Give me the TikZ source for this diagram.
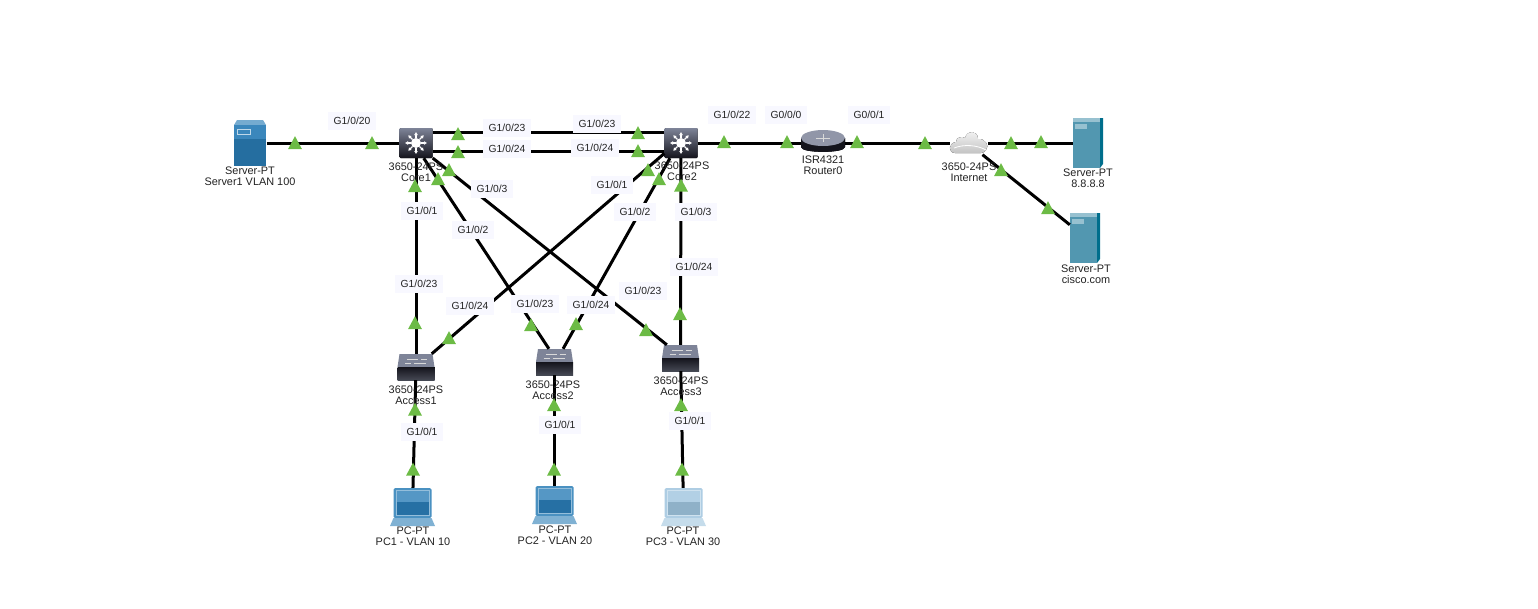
\documentclass[tikz,border=0pt]{standalone}
\usepackage{fontspec}
\setmainfont{Liberation Sans}
\usetikzlibrary{positioning,arrows.meta,shapes.geometric}
\definecolor{pktgreen}{HTML}{6CBB45}
\definecolor{pktlabel}{HTML}{F8F8FF}
\definecolor{pkttext}{HTML}{222222}
\definecolor{pktsteel}{HTML}{7E8498}
\definecolor{pktdark}{HTML}{14141C}
\definecolor{pktblue}{HTML}{2A7DB6}
\definecolor{pktteal}{HTML}{5297B0}
\definecolor{pktside}{HTML}{006E8C}

\tikzset{
  mlsicon/.pic={
    \fill[top color=pktsteel, middle color=pktdark!75!pktsteel, bottom color=pktdark, rounded corners=1pt] (-16.5,-15) rectangle (16.5,15);
    \fill[white] (0,0) circle (5);
    \foreach \a in {0,45,...,315}
      \draw[white, line width=1.1pt, -{Latex[length=3pt,width=4pt]}] (\a:5) -- (\a:11);
  },
  swicon/.pic={
    \fill[pktsteel] (-16.5,-13) -- (16.5,-13) -- (18.5,0) -- (-18.5,0) -- cycle;
    \draw[white!85!black, line width=0.5pt] (-9,-8) -- (2,-8) (-2,-4) -- (10,-4) (-11,-4) -- (-5,-4) (5,-8) -- (11,-8);
    \fill[top color=pktdark, bottom color=pktsteel!55!black] (-18.5,0) rectangle (18.5,13);
  },
  routericon/.pic={
    \fill[left color=pktdark, middle color=pktsteel!70!black, right color=pktdark] (-22,-3) -- (-22,6) .. controls (-22,12.5) and (22,12.5) .. (22,6) -- (22,-3) -- cycle;
    \fill[pktsteel!85!white] (0,-3) ellipse [x radius=22, y radius=8];
    \draw[white!85!black, line width=0.5pt] (-7,-3) -- (7,-3) (0,-7) -- (0,1);
  },
  cloudicon/.pic={
    \fill[top color=black!4, bottom color=black!24]
      (-14,10) .. controls (-21,10) and (-21,0) .. (-13,-1) .. controls (-13,-6) and (-7,-7) .. (-4,-5)
      .. controls (-2,-13) and (9,-13) .. (9,-4) .. controls (16,-5) and (21,3) .. (17,7)
      .. controls (15,11) and (10,10) .. (5,10) -- cycle;
    \draw[white, line width=0.8pt] (-15,5) .. controls (-5,1) and (8,2) .. (17,7);
  },
  srvblue/.pic={
    \fill[pktblue!65!white] (-16,-18) -- (-13,-23) -- (13,-23) -- (16,-18) -- cycle;
    \fill[pktblue!92!white] (-16,-18) rectangle (16,-4);
    \fill[pktblue!88!black] (-16,-4) rectangle (16,23);
    \draw[white!70!pktblue, line width=0.7pt] (-13,-14) rectangle (0,-9);
  },
  srvteal/.pic={
    \fill[pktteal!60!white] (-15,-25) -- (12,-25) -- (15,-21) -- (-15,-21) -- cycle;
    \fill[pktteal] (-15,-21) rectangle (12,25);
    \fill[pktside] (12,-25) -- (15,-25) -- (15,21) -- (12,25) -- cycle;
    \fill[pktteal!60!white] (-13,-19) rectangle (-1,-14);
  },
  laptop/.pic={
    \fill[#1!85!white, rounded corners=1.5pt] (-19,-19) rectangle (19,11);
    \fill[#1!50!white] (-17,-17) rectangle (17,9);
    \fill[#1!90!black] (-16,-16) rectangle (16,8);
    \fill[#1!80!white] (-16,-16) rectangle (16,-5);
    \fill[#1!60!white] (-19,11) -- (19,11) -- (22.5,19) -- (-22.5,19) -- cycle;
  }
}

\begin{document}
\begin{tikzpicture}[x=1pt, y=-1pt,
    dev/.style={rectangle, inner sep=0pt, minimum width=#1},
    lnk/.style={line width=3pt, color=black},
    port/.style={fill=pktlabel, inner xsep=6pt, inner ysep=0pt, minimum height=18pt,
      text=pkttext, font=\fontsize{10.3}{12}\selectfont},
    devtxt/.style={align=center, inner sep=0pt, text=pkttext, font=\fontsize{10.9}{11}\selectfont},
    tri/.style={isosceles triangle, isosceles triangle stretches, shape border rotate=90,
      fill=pktgreen, inner sep=0pt, minimum height=13pt, minimum width=14pt, yshift=-1.5pt}
  ]
  \useasboundingbox (0,0) rectangle (1538,608);

  \node[dev=33pt, minimum height=30pt] (server1) at (250,143) {};
  \node[dev=33pt, minimum height=30pt] (core1) at (416,143) {};
  \node[dev=33pt, minimum height=30pt] (core2) at (681,143) {};
  \node[dev=44pt, minimum height=22pt] (router0) at (823,143) {};
  \node[dev=38pt, minimum height=23pt] (internet) at (969,143) {};
  \node[dev=30pt, minimum height=50pt] (srvdns) at (1088,143) {};
  \node[dev=30pt, minimum height=50pt] (srvcisco) at (1085,238) {};
  \node[dev=37pt, minimum height=26pt] (access1) at (416,367) {};
  \node[dev=37pt, minimum height=26pt] (access2) at (554.5,362) {};
  \node[dev=37pt, minimum height=26pt] (access3) at (680.5,358) {};
  \node[dev=45pt, minimum height=38pt] (pc1) at (412.5,507) {};
  \node[dev=45pt, minimum height=38pt] (pc2) at (554.5,505) {};
  \node[dev=45pt, minimum height=38pt] (pc3) at (683.5,507) {};

  \pic at (server1) {srvblue};
  \pic at (core1) {mlsicon};
  \pic at (core2) {mlsicon};
  \pic at (823,141) {routericon};
  \pic at (internet) {cloudicon};
  \pic at (srvdns) {srvteal};
  \pic at (srvcisco) {srvteal};
  \pic at (access1) {swicon};
  \pic at (access2) {swicon};
  \pic at (access3) {swicon};
  \pic at (pc1) {laptop=pktblue};
  \pic at (pc2) {laptop=pktblue};
  \pic at (pc3) {laptop=pktblue!45!white};

  \draw[lnk] (server1)--(core1);
  \draw[lnk] (core1.31)--(core2.149);
  \draw[lnk] (core1.-26)--(core2.206);
  \draw[lnk] (core2)--(router0);
  \draw[lnk] (router0)--(internet);
  \draw[lnk] (internet)--(srvdns);
  \draw[lnk] (internet.-41)--(srvcisco.139);
  \draw[lnk] (core1)--(access1);
  \draw[lnk] (core1.-63)--(access2.113);
  \draw[lnk] (core1.-42)--(access3.136);
  \draw[lnk] (core2.212)--(access1.40);
  \draw[lnk] (core2.234)--(access2.57);
  \draw[lnk] (core2)--(access3);
  \draw[lnk] (access1)--(pc1);
  \draw[lnk] (access2)--(pc2);
  \draw[lnk] (access3)--(pc3);

  \node[devtxt] (nserver1) at (250,176.5) {Server-PT\\Server1 VLAN 100};
  \node[devtxt] (ncore1) at (416,172.5) {3650-24PS\\Core1};
  \node[devtxt] (ncore2) at (682,171.5) {3650-24PS\\Core2};
  \node[devtxt] (nrouter0) at (823,165.5) {ISR4321\\Router0};
  \node[devtxt] (ninternet) at (969,172.5) {3650-24PS\\Internet};
  \node[devtxt] (nsrvdns) at (1088,178.5) {Server-PT\\8.8.8.8};
  \node[devtxt] (nsrvcisco) at (1086,274.5) {Server-PT\\cisco.com};
  \node[devtxt] (naccess1) at (416,395.5) {3650-24PS\\Access1};
  \node[devtxt] (naccess2) at (553,390.5) {3650-24PS\\Access2};
  \node[devtxt] (naccess3) at (681,386.5) {3650-24PS\\Access3};
  \node[devtxt] (npc1) at (413,536.5) {PC-PT\\PC1 - VLAN 10};
  \node[devtxt] (npc2) at (555,535.5) {PC-PT\\PC2 - VLAN 20};
  \node[devtxt] (npc3) at (683,536.5) {PC-PT\\PC3 - VLAN 30};

  \node[port] (p1) at (352,121) {G1/0/20};
  \node[port] (p2) at (507,128) {G1/0/23};
  \node[port] (p3) at (507,149) {G1/0/24};
  \node[port] (p4) at (597,124) {G1/0/23};
  \node[port] (p5) at (595,148) {G1/0/24};
  \node[port] (p6) at (492,189) {G1/0/3};
  \node[port] (p7) at (732,115) {G1/0/22};
  \node[port] (p8) at (786,115) {G0/0/0};
  \node[port] (p9) at (869,115) {G0/0/1};
  \node[port] (p10) at (422,211) {G1/0/1};
  \node[port] (p11) at (473,230) {G1/0/2};
  \node[port] (p12) at (419,284) {G1/0/23};
  \node[port] (p13) at (470,306) {G1/0/24};
  \node[port] (p14) at (535,304) {G1/0/23};
  \node[port] (p15) at (591,305) {G1/0/24};
  \node[port] (p16) at (643,291) {G1/0/23};
  \node[port] (p17) at (612,185) {G1/0/1};
  \node[port] (p18) at (635,212) {G1/0/2};
  \node[port] (p19) at (696,212) {G1/0/3};
  \node[port] (p20) at (694,267) {G1/0/24};
  \node[port] (p21) at (422,432) {G1/0/1};
  \node[port] (p22) at (560,425) {G1/0/1};
  \node[port] (p23) at (690,421) {G1/0/1};

  \foreach \x/\y [count=\i] in {295/143.5, 372/143.5, 458/134.5, 458/152.5, 638/133.5, 638/151.5,
      449/170.5, 438/179.5, 415/186.5, 648/170.5, 659/179.5, 681/186, 724/142.5, 787/142.5, 857/142.5,
      925/143.5, 1011/143.5, 1041/142.5, 1001/170.5, 1048/208.5, 415/323.5, 449/338.5, 531/325.5,
      576/324.5, 646/330.5, 680/314.5, 415/410, 554/405.5, 681/405.5, 413/470, 554/470, 682/470}
    \node[tri] (t\i) at (\x,\y) {};
\end{tikzpicture}
\end{document}
